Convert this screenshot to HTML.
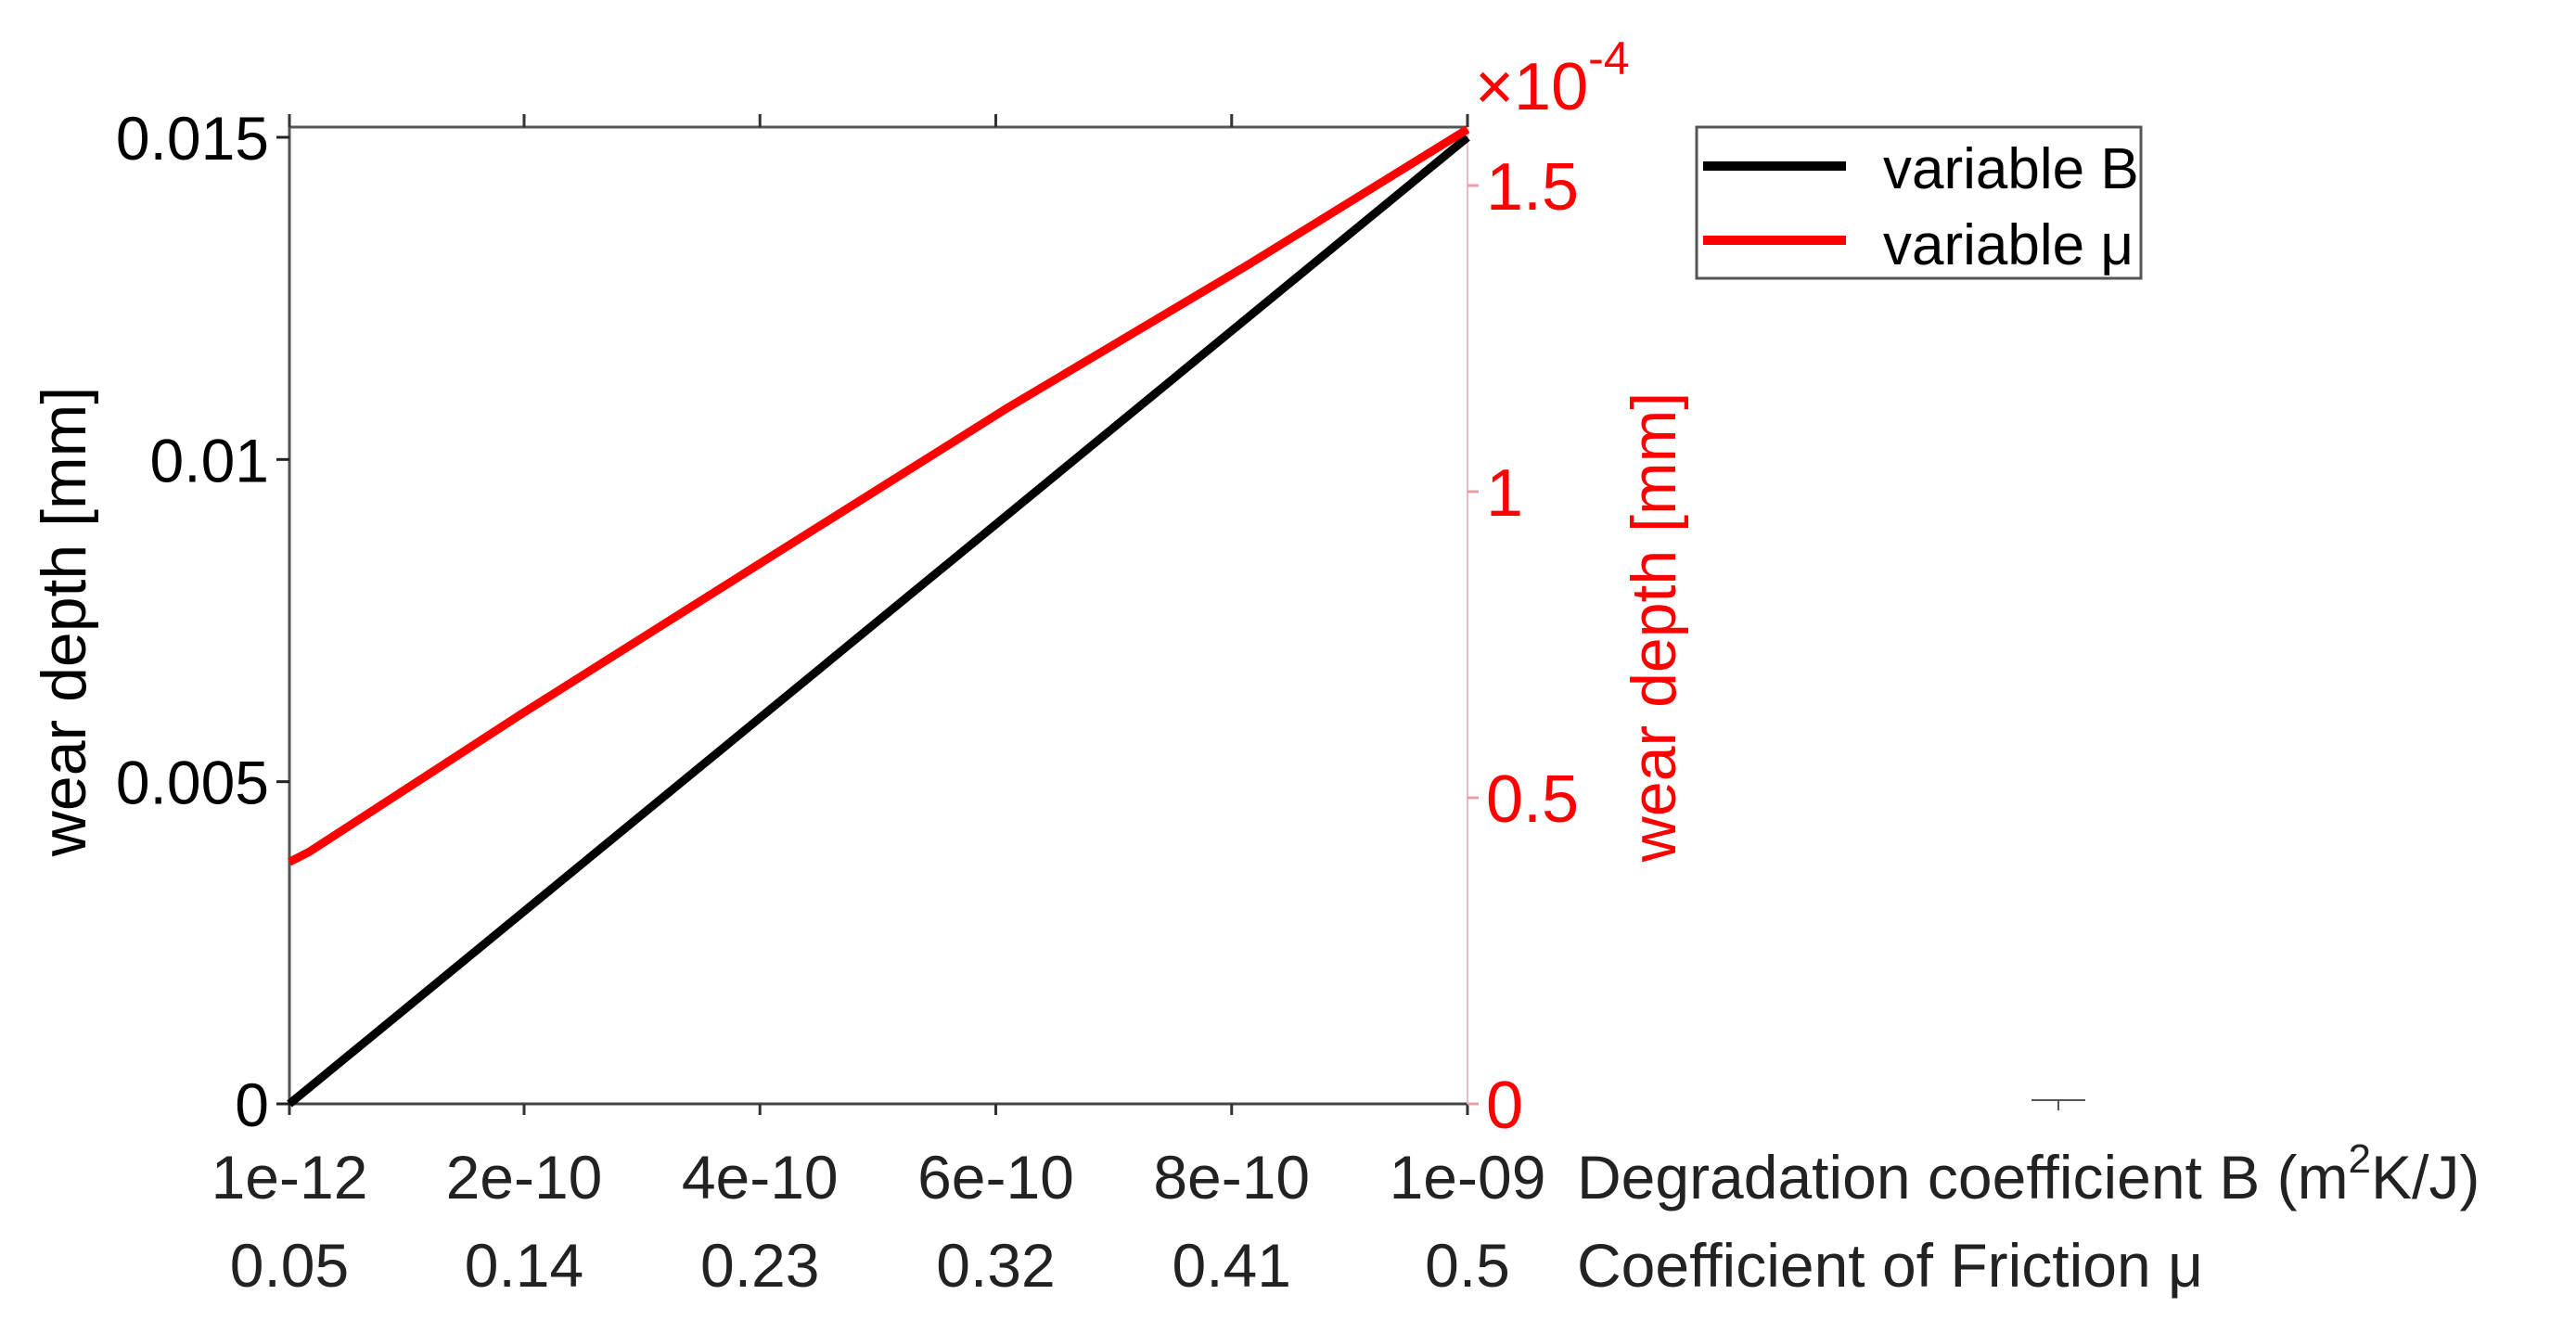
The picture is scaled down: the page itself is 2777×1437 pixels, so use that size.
<!DOCTYPE html>
<html><head><meta charset="utf-8"><style>
html,body{margin:0;padding:0;background:#fff;}
svg{display:block;}
text{font-family:"Liberation Sans",Arial,sans-serif;}
</style></head><body>
<svg id="chart" width="2777" height="1437" viewBox="0 0 2777 1437" xmlns="http://www.w3.org/2000/svg">
<rect width="2777" height="1437" fill="#fff"/>
<g id="axes"></g>
<g id="series"></g>
<g id="legend">
  <rect x="1829" y="137" width="479" height="163" fill="#fff" stroke="#555" stroke-width="3"/>
  <line x1="1836" y1="179" x2="1990" y2="179" stroke="#000" stroke-width="10"/>
  <text x="2030" y="203" font-size="62" fill="#000">variable B</text>
  <line x1="1836" y1="259" x2="1990" y2="259" stroke="#ff0000" stroke-width="10"/>
  <text x="2030" y="285" font-size="62" fill="#000">variable μ</text>
</g>
<line x1="2190" y1="1186" x2="2248" y2="1186" stroke="#555" stroke-width="2"/>
<line x1="2219" y1="1186" x2="2219" y2="1197" stroke="#555" stroke-width="2"/>
</svg>
<script>
// data
const bTickVals = [1e-12, 2e-10, 4e-10, 6e-10, 8e-10, 1e-9];
const bTickLabels = ["1e-12","2e-10","4e-10","6e-10","8e-10","1e-09"];
const muTickLabels = ["0.05","0.14","0.23","0.32","0.41","0.5"];
const leftTickVals = [0, 0.005, 0.01, 0.015];
const leftTickLabels = ["0","0.005","0.01","0.015"];
const rightTickVals = [0, 0.5, 1, 1.5];
const rightTickLabels = ["0","0.5","1","1.5"];
const seriesB_x = [1e-12, 1e-9];
const seriesB_y = [0, 0.015];
const seriesMu_x = [0.05, 0.0577, 0.1387, 0.231, 0.3236, 0.416, 0.5];
const seriesMu_y = [0.395, 0.412, 0.637, 0.886, 1.135, 1.370, 1.592];

const NS = "http://www.w3.org/2000/svg";
const L = 312, R = 1582, T = 137, B = 1190;
const xB = v => L + (v - 1e-12) / (1e-9 - 1e-12) * (R - L);
const xMu = v => L + (v - 0.05) / (0.5 - 0.05) * (R - L);
const yL = v => B - v / 0.015 * (B - 148);
const yR = v => B - v / 1.5 * (B - 200);

function mk(tag, attrs, parent) {
  const e = document.createElementNS(NS, tag);
  for (const k in attrs) e.setAttribute(k, attrs[k]);
  parent.appendChild(e);
  return e;
}
const ax = document.getElementById("axes");
const se = document.getElementById("series");

let e = mk("line", {x1:L, y1:T, x2:R, y2:T, stroke:"#555", "stroke-width":3}, ax);


e = mk("line", {x1:L, y1:T, x2:L, y2:B, stroke:"#555", "stroke-width":3}, ax);


e = mk("line", {x1:L, y1:B, x2:R+12, y2:B, stroke:"#444", "stroke-width":3}, ax);


e = mk("line", {x1:R, y1:T, x2:R, y2:B+12, stroke:"#e8bcc6", "stroke-width":2}, ax);



bTickVals.forEach((v, i) => {
  const x = xB(v);
  let t = mk("line", {x1:x, y1:T, x2:x, y2:T-14, stroke:"#333", "stroke-width":3}, ax);
  
  
  t = mk("line", {x1:x, y1:B, x2:x, y2:B+12, stroke:"#333", "stroke-width":3}, ax);
  
  
  let tx = mk("text", {x:x, y:1292, "font-size":66, fill:"#222", "text-anchor":"middle"}, ax);
  tx.textContent = bTickLabels[i];
  
  
  tx = mk("text", {x:x, y:1387, "font-size":66, fill:"#222", "text-anchor":"middle"}, ax);
  tx.textContent = muTickLabels[i];
  
  
});
leftTickVals.forEach((v, i) => {
  const y = yL(v);
  let t = mk("line", {x1:L, y1:y, x2:L-14, y2:y, stroke:"#222", "stroke-width":3}, ax);
  
  
  let tx = mk("text", {x:L-22, y:y+24, "font-size":66, fill:"#000", "text-anchor":"end"}, ax);
  tx.textContent = leftTickLabels[i];
  
  
});
rightTickVals.forEach((v, i) => {
  const y = yR(v);
  let t = mk("line", {x1:R, y1:y, x2:R+12, y2:y, stroke:"#e8a0a8", "stroke-width":3}, ax);
  
  
  let tx = mk("text", {x:R+20, y:y+26, "font-size":72, fill:"#ff0000"}, ax);
  tx.textContent = rightTickLabels[i];
  
  
});

let t1 = mk("text", {x:0, y:0, "font-size":68, fill:"#000", "text-anchor":"middle", transform:"translate(92,670) rotate(-90)"}, ax);
t1.textContent = "wear depth [mm]";


let t2 = mk("text", {x:0, y:0, "font-size":68, fill:"#ff0000", "text-anchor":"middle", transform:"translate(1806,676) rotate(-90)"}, ax);
t2.textContent = "wear depth [mm]";


let t3 = mk("text", {x:1700, y:1292, "font-size":66, fill:"#222"}, ax);
t3.innerHTML = 'Degradation coefficient B (m<tspan dy="-28" font-size="44">2</tspan><tspan dy="28">K/J)</tspan>';


let t4 = mk("text", {x:1700, y:1387, "font-size":66, fill:"#222"}, ax);
t4.textContent = "Coefficient of Friction μ";


let t5 = mk("text", {x:1590, y:118, "font-size":72, fill:"#ff0000"}, ax);
t5.innerHTML = '×10<tspan dy="-38" font-size="50">-4</tspan>';



const pB = seriesB_x.map((v, i) => xB(v) + "," + yL(seriesB_y[i])).join(" ");
let pl = mk("polyline", {points:pB, fill:"none", stroke:"#000", "stroke-width":9}, se);


const pM = seriesMu_x.map((v, i) => xMu(v) + "," + yR(seriesMu_y[i])).join(" ");
pl = mk("polyline", {points:pM, fill:"none", stroke:"#ff0000", "stroke-width":9, "stroke-linejoin":"round"}, se);


</script>
</body></html>
